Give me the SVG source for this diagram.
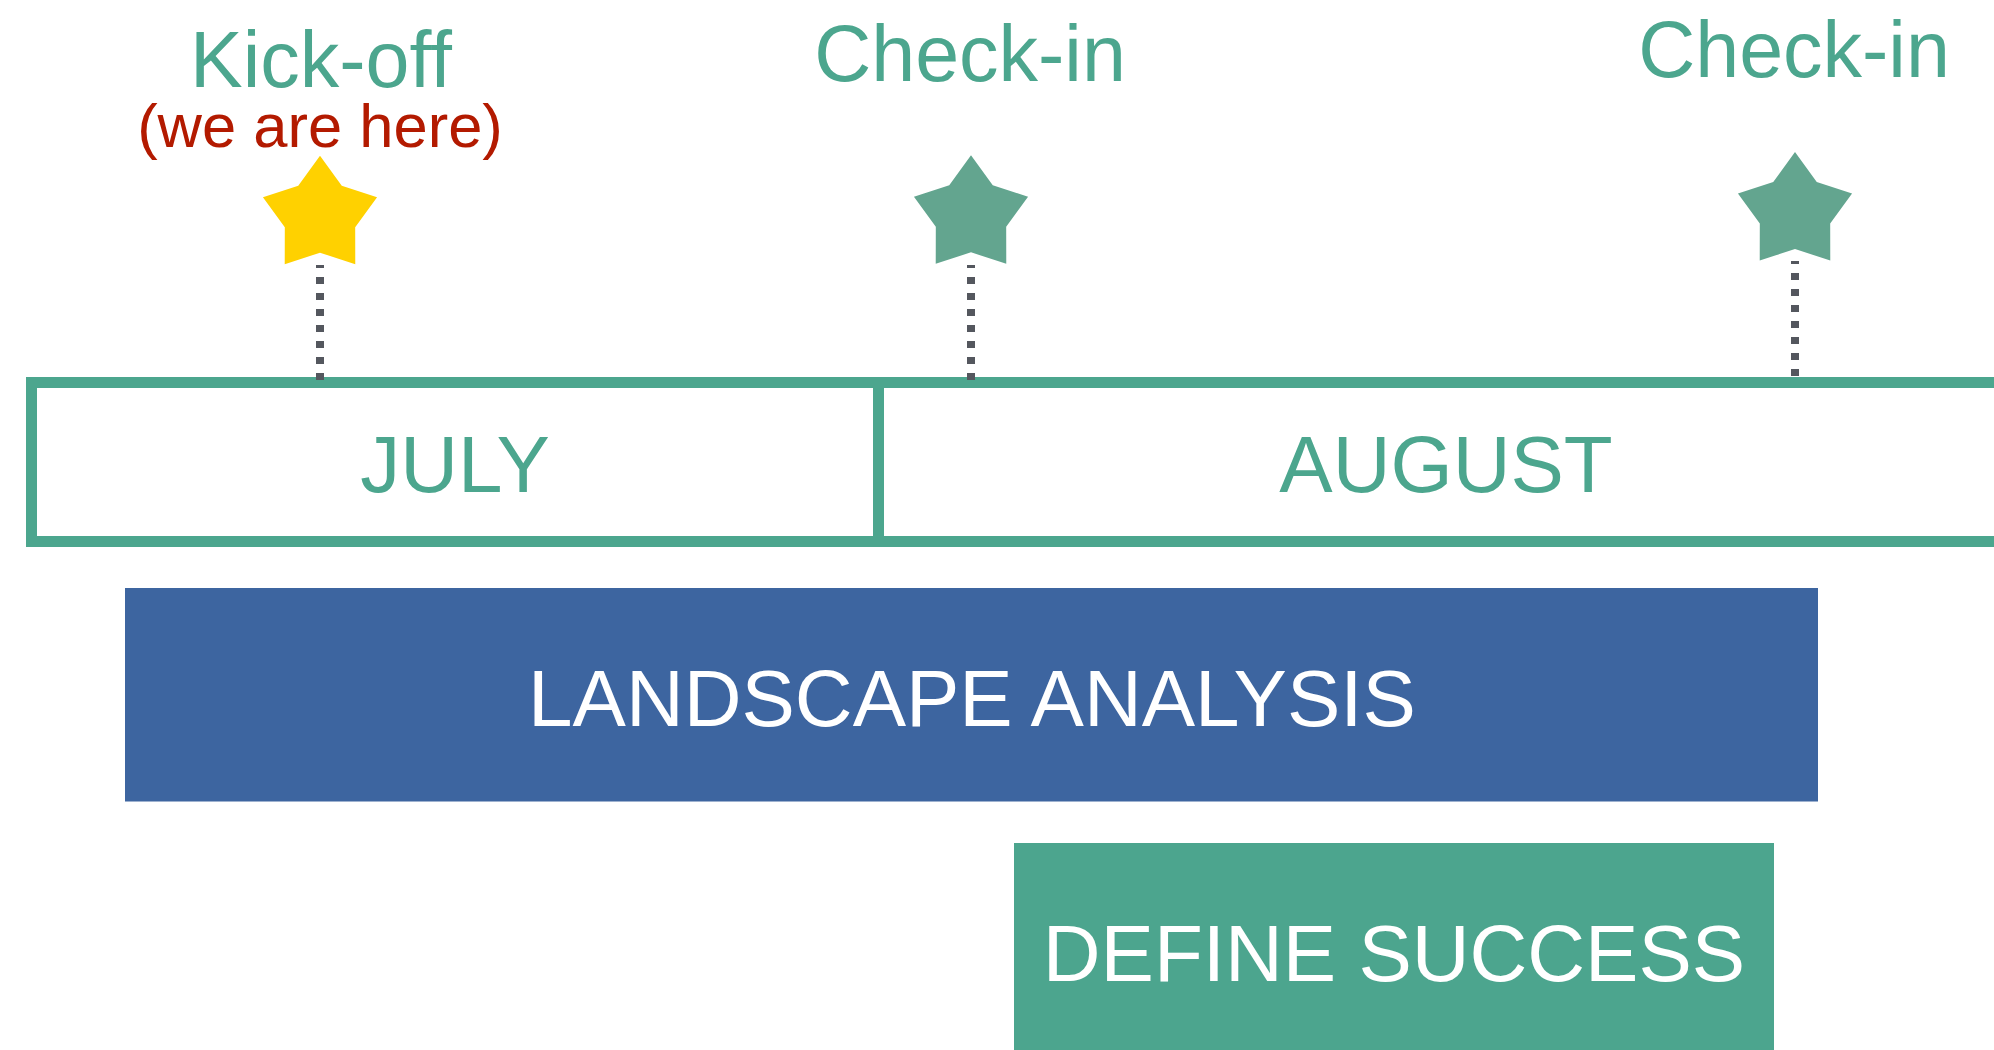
<svg xmlns="http://www.w3.org/2000/svg" xmlns:xlink="http://www.w3.org/1999/xlink" width="1994" height="1050" viewBox="0 0 1994 1050">
  <style>
    text { font-family: "Liberation Sans", Arial, Helvetica, sans-serif; text-anchor: middle; }
    .lbl { fill: #4ca68e; font-size: 79px; }
    .red { fill: #b31a00; font-size: 61.5px; }
    .month { fill: #4ca68e; font-size: 80px; }
    .task { fill: #ffffff; font-size: 80px; }
    .frame { fill: none; stroke: #4ca68e; stroke-width: 11; }
    .dots { stroke: #54575e; stroke-width: 8; stroke-dasharray: 7 9; fill: none; }
  </style>
  <defs>
    <path id="star" d="M0,-60 L21.75,-29.93 L57.06,-18.54 L35.19,11.43 L35.27,48.54 L0,37 L-35.27,48.54 L-35.19,11.43 L-57.06,-18.54 L-21.75,-29.93 Z"/>
  </defs>
  <rect width="1994" height="1050" fill="#ffffff"/>

  <g id="timeline">
    <rect class="frame" x="31.5" y="382.5" width="1990" height="159"/>
    <line class="frame" x1="878.5" y1="377" x2="878.5" y2="547"/>
  </g>

  <g id="connectors">
    <line class="dots" x1="320" y1="380" x2="320" y2="265"/>
    <line class="dots" x1="971" y1="380" x2="971" y2="265"/>
    <line class="dots" x1="1795" y1="376" x2="1795" y2="261"/>
  </g>

  <g id="kickoff">
    <text class="lbl" x="321" y="87">Kick-off</text>
    <text class="red" x="320" y="147">(we are here)</text>
    <use xlink:href="#star" href="#star" x="320" y="215.7" fill="#ffd100"/>
  </g>

  <g id="checkin1">
    <text class="lbl" x="970" y="81">Check-in</text>
    <use xlink:href="#star" href="#star" x="971" y="215.3" fill="#63a58f"/>
  </g>

  <g id="checkin2">
    <text class="lbl" x="1794" y="77">Check-in</text>
    <use xlink:href="#star" href="#star" x="1795" y="212" fill="#63a58f"/>
  </g>

  <g id="july">
    <text class="month" x="455" y="492">JULY</text>
  </g>

  <g id="august">
    <text class="month" x="1446" y="492">AUGUST</text>
  </g>

  <g id="landscape-analysis">
    <rect x="125" y="588" width="1693" height="213.5" fill="#3d65a0"/>
    <text class="task" x="972" y="726">LANDSCAPE ANALYSIS</text>
  </g>

  <g id="define-success">
    <rect x="1014" y="843" width="760" height="210" fill="#4ca58e"/>
    <text class="task" x="1394" y="981">DEFINE SUCCESS</text>
  </g>
</svg>
